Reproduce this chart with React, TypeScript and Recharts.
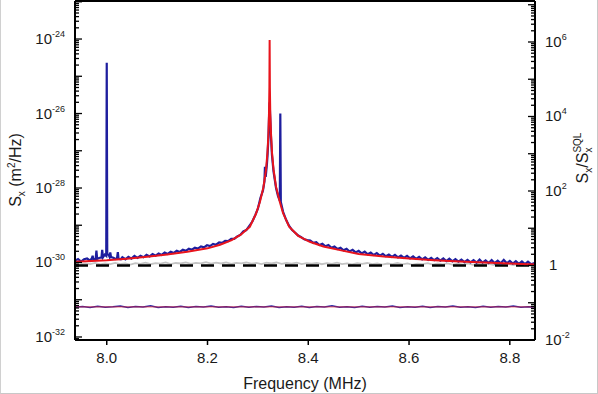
import { LineChart, Line, XAxis, YAxis, ReferenceLine, Label } from "recharts";

const FONT = '"Liberation Sans", Arial, sans-serif';

// frequency axis (MHz)
const X_MIN = 7.937;
const X_MAX = 8.85;
const X_TICKS = [8.0, 8.2, 8.4, 8.6, 8.8];

// left axis: S_x (m^2/Hz), right axis: S_x / S_x^SQL
const LEFT_MIN = 8.3e-33;
const LEFT_MAX = 1.05e-23;
const LEFT_LABEL_EXPS = [-32, -30, -28, -26, -24];
const RIGHT_MIN = 1e-2;
const RIGHT_MAX = 1.26e7;
const RIGHT_LABEL_EXPS = [-2, 0, 2, 4, 6];

// measured displacement spectrum (blue)
const MEASURED: [number, number][] = [
  [7.937, 1.12e-30], [7.943, 1.24e-30], [7.949, 1.06e-30], [7.955, 1.22e-30], [7.961, 1.28e-30],
  [7.967, 1.12e-30], [7.9705, 1.3e-30], [7.972, 1.52e-30], [7.9735, 1.2e-30], [7.978, 1.24e-30],
  [7.9795, 2.1e-30], [7.981, 1.25e-30], [7.986, 1.34e-30], [7.9895, 1.35e-30], [7.991, 2.2e-30],
  [7.9925, 1.38e-30], [7.996, 1.62e-30], [7.999, 1.5e-30], [8.0, 2.3e-25], [8.001, 1.7e-30],
  [8.004, 1.58e-30], [8.0055, 1.42e-30], [8.007, 1.85e-30], [8.0085, 1.4e-30], [8.013, 1.34e-30],
  [8.018, 1.24e-30], [8.0205, 1.32e-30], [8.022, 1.9e-30], [8.0235, 1.26e-30], [8.028, 1.22e-30],
  [8.031, 1.38e-30], [8.037, 1.22e-30], [8.043, 1.42e-30], [8.049, 1.27e-30], [8.055, 1.5e-30],
  [8.061, 1.33e-30], [8.067, 1.52e-30], [8.073, 1.38e-30], [8.079, 1.6e-30], [8.085, 1.45e-30],
  [8.091, 1.68e-30], [8.097, 1.52e-30], [8.103, 1.75e-30], [8.109, 1.6e-30], [8.115, 1.85e-30],
  [8.121, 1.7e-30], [8.127, 1.95e-30], [8.133, 1.8e-30], [8.139, 2.06e-30], [8.145, 1.92e-30],
  [8.151, 2.2e-30], [8.157, 2.05e-30], [8.163, 2.35e-30], [8.169, 2.2e-30], [8.175, 2.5e-30],
  [8.181, 2.37e-30], [8.187, 2.7e-30], [8.193, 2.55e-30], [8.199, 2.9e-30], [8.205, 2.75e-30],
  [8.211, 3.15e-30], [8.217, 3.0e-30], [8.223, 3.45e-30], [8.229, 3.35e-30], [8.235, 3.8e-30],
  [8.241, 3.75e-30], [8.247, 4.3e-30], [8.253, 4.3e-30], [8.259, 5.0e-30], [8.265, 5.5e-30],
  [8.271, 6.8e-30], [8.277, 7.4e-30], [8.283, 9.6e-30], [8.289, 1.26e-29], [8.295, 1.9e-29],
  [8.3, 2.8e-29], [8.305, 5.4e-29], [8.31, 8.5e-29], [8.313, 1.5e-28], [8.314, 3.7e-28],
  [8.3155, 2.0e-28], [8.318, 4.5e-28], [8.319, 7.0e-28], [8.321, 2.3e-27], [8.322, 7.0e-27],
  [8.3233, 2.0e-26], [8.3246, 7.0e-27], [8.326, 2.3e-27], [8.328, 7.5e-28], [8.331, 2.8e-28],
  [8.336, 1.0e-28], [8.34, 6.0e-29], [8.3435, 4.6e-29], [8.3445, 1.0e-26], [8.3455, 4.2e-29],
  [8.35, 2.3e-29], [8.356, 1.4e-29], [8.362, 9.6e-30], [8.368, 7.4e-30], [8.374, 6.3e-30],
  [8.38, 5.3e-30], [8.386, 4.8e-30], [8.392, 4.2e-30], [8.398, 4.0e-30], [8.404, 3.9e-30],
  [8.41, 3.35e-30], [8.416, 3.5e-30], [8.422, 2.95e-30], [8.428, 3.2e-30], [8.434, 2.72e-30],
  [8.44, 2.95e-30], [8.446, 2.48e-30], [8.452, 2.7e-30], [8.458, 2.3e-30], [8.464, 2.5e-30],
  [8.47, 2.12e-30], [8.476, 2.34e-30], [8.482, 1.97e-30], [8.488, 2.18e-30], [8.494, 1.86e-30],
  [8.5, 2.05e-30], [8.506, 1.76e-30], [8.512, 1.95e-30], [8.518, 1.66e-30], [8.524, 1.85e-30],
  [8.53, 1.59e-30], [8.536, 1.78e-30], [8.542, 1.53e-30], [8.548, 1.7e-30], [8.554, 1.47e-30],
  [8.56, 1.64e-30], [8.566, 1.42e-30], [8.572, 1.6e-30], [8.578, 1.37e-30], [8.584, 1.54e-30],
  [8.59, 1.33e-30], [8.596, 1.5e-30], [8.602, 1.29e-30], [8.608, 1.46e-30], [8.614, 1.25e-30],
  [8.62, 1.42e-30], [8.626, 1.21e-30], [8.632, 1.38e-30], [8.638, 1.18e-30], [8.644, 1.34e-30],
  [8.65, 1.15e-30], [8.656, 1.31e-30], [8.662, 1.12e-30], [8.668, 1.28e-30], [8.674, 1.09e-30],
  [8.68, 1.26e-30], [8.686, 1.07e-30], [8.692, 1.23e-30], [8.698, 1.05e-30], [8.704, 1.2e-30],
  [8.71, 1.03e-30], [8.716, 1.18e-30], [8.722, 1.01e-30], [8.728, 1.16e-30], [8.734, 0.99e-30],
  [8.74, 1.2e-30], [8.746, 0.99e-30], [8.752, 1.14e-30], [8.758, 0.97e-30], [8.764, 1.17e-30],
  [8.77, 0.96e-30], [8.776, 1.12e-30], [8.782, 0.95e-30], [8.788, 1.18e-30], [8.794, 0.95e-30],
  [8.8, 1.1e-30], [8.806, 0.93e-30], [8.812, 1.08e-30], [8.818, 0.92e-30], [8.824, 1.07e-30],
  [8.83, 0.91e-30], [8.836, 1.05e-30], [8.842, 0.9e-30], [8.849, 0.97e-30],
];

// Lorentzian fit (red)
const FIT: [number, number][] = [
  [7.937, 1.05e-30], [7.97, 1.1e-30], [8.0, 1.15e-30], [8.04, 1.27e-30], [8.08, 1.43e-30],
  [8.12, 1.65e-30], [8.16, 1.95e-30], [8.2, 2.4e-30], [8.225, 3.0e-30], [8.248, 4.0e-30],
  [8.266, 5.6e-30], [8.284, 9.1e-30], [8.296, 2.0e-29], [8.304, 4.2e-29], [8.311, 1.05e-28],
  [8.316, 3.0e-28], [8.319, 9.0e-28], [8.321, 3.0e-27], [8.322, 1.0e-26], [8.3228, 5.0e-26],
  [8.3233, 9.4e-25], [8.3238, 5.0e-26], [8.3246, 1.0e-26], [8.326, 3.0e-27], [8.328, 9.0e-28],
  [8.331, 3.2e-28], [8.336, 1.08e-28], [8.343, 4.5e-29], [8.35, 2.1e-29], [8.362, 9.1e-30],
  [8.38, 5.2e-30], [8.403, 3.6e-30], [8.43, 2.7e-30], [8.463, 2.15e-30], [8.5, 1.7e-30],
  [8.55, 1.45e-30], [8.6, 1.29e-30], [8.65, 1.15e-30], [8.7, 1.06e-30], [8.75, 1.0e-30],
  [8.8, 0.94e-30], [8.85, 0.88e-30],
];

// background / imprecision trace (gray)
const BACKGROUND: [number, number][] = [
  [7.937, 0.92e-30], [7.947, 0.88e-30], [7.957, 0.95e-30], [7.967, 0.9e-30], [7.977, 0.97e-30],
  [7.987, 0.89e-30], [7.997, 0.94e-30], [8.007, 0.91e-30], [8.017, 0.98e-30], [8.027, 0.9e-30],
  [8.037, 0.95e-30], [8.047, 0.88e-30], [8.057, 0.96e-30], [8.067, 0.92e-30], [8.077, 0.99e-30],
  [8.087, 0.9e-30], [8.097, 0.96e-30], [8.107, 0.93e-30], [8.117, 1.0e-30], [8.127, 0.91e-30],
  [8.137, 0.97e-30], [8.147, 0.94e-30], [8.157, 1.01e-30], [8.167, 0.92e-30], [8.177, 0.98e-30],
  [8.187, 0.95e-30], [8.197, 1.02e-30], [8.207, 0.93e-30], [8.217, 0.99e-30], [8.227, 0.94e-30],
  [8.237, 1.01e-30], [8.247, 0.92e-30], [8.257, 0.98e-30], [8.267, 0.95e-30], [8.277, 1.0e-30],
  [8.287, 0.93e-30], [8.297, 0.97e-30], [8.307, 0.91e-30], [8.317, 0.99e-30], [8.327, 0.94e-30],
  [8.337, 1.0e-30], [8.347, 0.92e-30], [8.357, 0.97e-30], [8.367, 0.93e-30], [8.377, 0.99e-30],
  [8.387, 0.91e-30], [8.397, 0.96e-30], [8.407, 0.93e-30], [8.417, 0.98e-30], [8.427, 0.9e-30],
  [8.437, 0.96e-30], [8.447, 0.92e-30], [8.457, 0.99e-30], [8.467, 0.91e-30], [8.477, 0.95e-30],
  [8.487, 0.89e-30], [8.497, 0.96e-30], [8.507, 0.92e-30], [8.517, 0.97e-30], [8.527, 0.9e-30],
  [8.537, 0.95e-30], [8.547, 0.88e-30], [8.557, 0.94e-30], [8.567, 0.91e-30], [8.577, 0.97e-30],
  [8.587, 0.89e-30], [8.597, 0.95e-30], [8.607, 0.87e-30], [8.617, 0.93e-30], [8.627, 0.9e-30],
  [8.637, 0.96e-30], [8.647, 0.88e-30], [8.657, 0.94e-30], [8.667, 0.89e-30], [8.677, 0.95e-30],
  [8.687, 0.87e-30], [8.697, 0.93e-30], [8.707, 0.88e-30], [8.717, 0.94e-30], [8.727, 0.86e-30],
  [8.737, 0.92e-30], [8.747, 0.88e-30], [8.757, 0.93e-30], [8.767, 0.86e-30], [8.777, 0.91e-30],
  [8.787, 0.87e-30], [8.797, 0.92e-30], [8.807, 0.85e-30], [8.817, 0.9e-30], [8.827, 0.86e-30],
  [8.837, 0.91e-30], [8.849, 0.87e-30],
];

// low flat trace (blue data under red fit)
const LOW_MEASURED: [number, number][] = [
  [7.937, 6.3e-32], [7.952, 6.6e-32], [7.967, 6.2e-32], [7.982, 6.7e-32], [7.997, 6.3e-32],
  [8.012, 6.5e-32], [8.027, 6.8e-32], [8.042, 6.2e-32], [8.057, 6.6e-32], [8.072, 6.4e-32],
  [8.087, 6.9e-32], [8.102, 6.2e-32], [8.117, 6.5e-32], [8.132, 6.3e-32], [8.147, 6.7e-32],
  [8.162, 6.2e-32], [8.177, 6.6e-32], [8.192, 6.4e-32], [8.207, 6.8e-32], [8.222, 6.3e-32],
  [8.237, 6.5e-32], [8.252, 6.2e-32], [8.267, 6.7e-32], [8.282, 6.3e-32], [8.297, 6.6e-32],
  [8.312, 6.4e-32], [8.327, 6.8e-32], [8.342, 6.2e-32], [8.357, 6.5e-32], [8.372, 6.3e-32],
  [8.387, 6.7e-32], [8.402, 6.2e-32], [8.417, 6.6e-32], [8.432, 6.4e-32], [8.447, 6.9e-32],
  [8.462, 6.3e-32], [8.477, 6.5e-32], [8.492, 6.2e-32], [8.507, 6.7e-32], [8.522, 6.3e-32],
  [8.537, 6.6e-32], [8.552, 6.4e-32], [8.567, 6.8e-32], [8.582, 6.2e-32], [8.597, 6.5e-32],
  [8.612, 6.3e-32], [8.627, 6.7e-32], [8.642, 6.2e-32], [8.657, 6.6e-32], [8.672, 6.4e-32],
  [8.687, 6.8e-32], [8.702, 6.3e-32], [8.717, 6.5e-32], [8.732, 6.2e-32], [8.747, 6.7e-32],
  [8.762, 6.3e-32], [8.777, 6.6e-32], [8.792, 6.4e-32], [8.807, 6.8e-32], [8.822, 6.3e-32],
  [8.837, 6.5e-32], [8.849, 6.4e-32],
];
const LOW_FIT: [number, number][] = [[7.937, 6.4e-32], [8.85, 6.4e-32]];

// SQL level, in units of S_x^SQL (right axis)
const SQL_LEVEL: [number, number][] = [[7.937, 1], [8.85, 1]];

const PLOT_L = 75;
const PLOT_R = 535;

const toRows = (pts: [number, number][]) => pts.map(([f, v]) => ({ f, v }));

function logTicks(min: number, max: number) {
  const out: number[] = [];
  const lo = Math.floor(Math.log10(min));
  const hi = Math.ceil(Math.log10(max));
  for (let d = lo; d <= hi; d++) {
    for (let m = 1; m <= 9; m++) {
      const v = Number(`${m}e${d}`);
      if (v >= min && v <= max) out.push(v);
    }
  }
  return out;
}

function decadeOf(v: number) {
  const e = Math.log10(v);
  const r = Math.round(e);
  return Math.abs(e - r) < 1e-6 ? r : null;
}

function LeftTick(props: any) {
  const { y, payload } = props;
  const d = decadeOf(payload.value);
  const len = d !== null ? 7 : 4;
  return (
    <g>
      <line x1={PLOT_L} x2={PLOT_L + len} y1={y} y2={y} stroke="#000" strokeWidth={1.3} />
      {d !== null && LEFT_LABEL_EXPS.includes(d) && (
        <text x={PLOT_L - 10} y={y + 5} textAnchor="end" fontFamily={FONT} fontSize={15} fill="#1a1a1a">
          10
          <tspan dy={-7} fontSize={9}>{String(d)}</tspan>
        </text>
      )}
    </g>
  );
}

function RightTick(props: any) {
  const { y, payload } = props;
  const d = decadeOf(payload.value);
  const len = d !== null ? 7 : 4;
  return (
    <g>
      <line x1={PLOT_R - len} x2={PLOT_R} y1={y} y2={y} stroke="#000" strokeWidth={1.3} />
      {d !== null && RIGHT_LABEL_EXPS.includes(d) && (
        d === 0 ? (
          <text x={PLOT_R + 14} y={y + 5} fontFamily={FONT} fontSize={15} fill="#1a1a1a">1</text>
        ) : (
          <text x={PLOT_R + 10} y={y + 5} fontFamily={FONT} fontSize={15} fill="#1a1a1a">
            10
            <tspan dy={-7} fontSize={9}>{String(d)}</tspan>
          </text>
        )
      )}
    </g>
  );
}

const leftTitle = () => (
  <text transform="rotate(-90, 21, 170)" x={21} y={170} textAnchor="middle" fontFamily={FONT} fontSize={16} fill="#1a1a1a">
    S<tspan dy={4} fontSize={10}>x</tspan>
    <tspan dy={-4}> (m</tspan>
    <tspan dy={-6} fontSize={10}>2</tspan>
    <tspan dy={6}>/Hz)</tspan>
  </text>
);

const rightTitle = () => (
  <text transform="rotate(-90, 588, 158)" x={588} y={158} textAnchor="middle" fontFamily={FONT} fontSize={16} fill="#1a1a1a">
    S<tspan dy={4} fontSize={10}>x</tspan>
    <tspan dy={-4}>/S</tspan>
    <tspan dy={4} fontSize={10}>x</tspan>
    <tspan dx={-5} dy={-11} fontSize={10}>SQL</tspan>
  </text>
);

export default function App() {
  const leftTicks = logTicks(LEFT_MIN, LEFT_MAX);
  const rightTicks = logTicks(RIGHT_MIN, RIGHT_MAX);

  return (
    <div style={{ position: "absolute", left: 0, top: 0, width: 598, height: 394, background: "#fff" }}>
      <LineChart width={598} height={394} margin={{ top: 1, right: 0, bottom: 0, left: 0 }}>
        <XAxis
          type="number"
          dataKey="f"
          domain={[X_MIN, X_MAX]}
          allowDataOverflow
          ticks={X_TICKS}
          interval={0}
          tickFormatter={(v: number) => v.toFixed(1)}
          height={54}
          tickSize={5}
          tickMargin={7}
          axisLine={{ stroke: "#000", strokeWidth: 2 }}
          tickLine={{ stroke: "#000", strokeWidth: 1.5 }}
          tick={{ fill: "#1a1a1a", fontSize: 15, fontFamily: FONT }}
        >
          <Label position="insideBottom" offset={5} value="Frequency (MHz)" fill="#1a1a1a" fontSize={16} fontFamily={FONT} />
        </XAxis>
        <YAxis
          yAxisId="left"
          type="number"
          scale="log"
          domain={[LEFT_MIN, LEFT_MAX]}
          allowDataOverflow
          ticks={leftTicks}
          interval={0}
          width={75}
          tickLine={false}
          axisLine={{ stroke: "#000", strokeWidth: 2 }}
          tick={<LeftTick />}
        >
          <Label content={leftTitle} />
        </YAxis>
        <YAxis
          yAxisId="right"
          orientation="right"
          type="number"
          scale="log"
          domain={[RIGHT_MIN, RIGHT_MAX]}
          allowDataOverflow
          ticks={rightTicks}
          interval={0}
          width={63}
          tickLine={false}
          axisLine={{ stroke: "#000", strokeWidth: 2 }}
          tick={<RightTick />}
        >
          <Label content={rightTitle} />
        </YAxis>
        <ReferenceLine yAxisId="left" y={LEFT_MAX} stroke="#000" strokeWidth={2} ifOverflow="visible" />

        <Line yAxisId="left" data={toRows(BACKGROUND)} dataKey="v" stroke="#c4c4c4" strokeWidth={1.8} dot={false} isAnimationActive={false} />
        <Line yAxisId="right" data={toRows(SQL_LEVEL)} dataKey="v" stroke="#000" strokeWidth={2.5} strokeDasharray="13 8" dot={false} isAnimationActive={false} />
        <Line yAxisId="left" data={toRows(LOW_MEASURED)} dataKey="v" stroke="#2a2aa8" strokeWidth={1.5} dot={false} isAnimationActive={false} />
        <Line yAxisId="left" data={toRows(LOW_FIT)} dataKey="v" stroke="#e0182a" strokeOpacity={0.6} strokeWidth={1.2} dot={false} isAnimationActive={false} />
        <Line yAxisId="left" data={toRows(MEASURED)} dataKey="v" stroke="#1e1e9e" strokeWidth={2.2} dot={false} isAnimationActive={false} />
        <Line yAxisId="left" data={toRows(FIT)} dataKey="v" stroke="#e8141c" strokeWidth={2} dot={false} isAnimationActive={false} />
      </LineChart>
      <div style={{ position: "absolute", left: 0, top: 0, width: 598, height: 394, boxSizing: "border-box", borderLeft: "1px solid #d0d0d0", borderRight: "1px solid #c8c8c8", borderBottom: "1px solid #c8c8c8", pointerEvents: "none" }} />
    </div>
  );
}
